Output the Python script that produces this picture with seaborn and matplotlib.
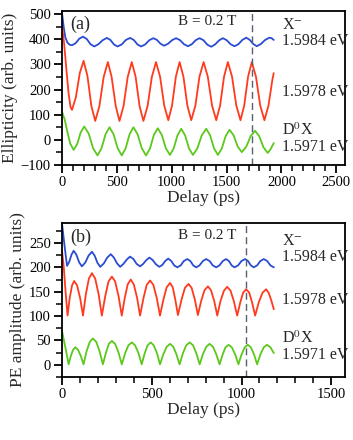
import seaborn as sns
import matplotlib
matplotlib.use('Agg')
import matplotlib.pyplot as plt
from matplotlib.ticker import MultipleLocator

# ---- (a) ellipticity, delay in ps ----
ta_blue = [0, 15, 30, 50, 70, 91, 124, 158, 191, 225, 260, 294, 332, 371, 409, 441, 474, 506,
           544, 583, 621, 654, 688, 721, 758, 796, 833, 865, 898, 930, 967, 1003, 1040, 1076,
           1112, 1148, 1183, 1219, 1254, 1289, 1325, 1360, 1395, 1431, 1466, 1501, 1537, 1572,
           1608, 1644, 1680, 1712, 1743, 1775, 1813, 1852, 1890, 1910, 1930]
va_blue = [505, 450, 408, 386, 378, 376, 384, 402, 410, 401, 380, 371, 380, 396, 405, 397, 379, 371,
           379, 397, 405, 397, 379, 371, 379, 396, 404, 397, 382, 374, 382, 396, 404, 396,
           380, 372, 380, 396, 404, 396, 378, 370, 379, 395, 404, 396, 380, 372,
           380, 397, 406, 397, 381, 372, 381, 397, 406, 404, 397]

ta_red = [0, 20, 40, 60, 78, 91, 126, 162, 197, 232, 268, 303, 341, 380, 418, 452, 490, 524,
          561, 599, 636, 671, 707, 742, 780, 819, 857, 894, 932, 969, 1003, 1038, 1072, 1107,
          1143, 1178, 1216, 1253, 1291, 1329, 1368, 1406, 1441, 1477, 1512, 1550, 1589, 1627,
          1661, 1696, 1730, 1768, 1807, 1845, 1882, 1918, 1930]
va_red = [455, 380, 280, 185, 130, 119, 168, 265, 314, 254, 134, 75, 134, 250, 309, 251, 134, 75,
          134, 250, 309, 251, 134, 75, 134, 250, 309, 251, 136, 78, 136, 251, 309, 251,
          136, 78, 136, 251, 309, 251, 136, 78, 136, 251, 309, 251, 136, 78,
          136, 251, 309, 251, 136, 78, 136, 240, 265]

ta_green = [0, 25, 50, 75, 106, 138, 171, 203, 243, 284, 324, 360, 397, 433, 470, 508, 545,
            580, 616, 651, 689, 728, 766, 802, 837, 873, 910, 947, 984, 1018, 1053, 1087, 1122,
            1158, 1193, 1234, 1274, 1315, 1350, 1386, 1421, 1456, 1492, 1527, 1564, 1602, 1639,
            1679, 1720, 1760, 1798, 1837, 1875, 1900, 1930]
va_green = [112, 80, 30, -15, -40, -17, 30, 53, 25, -34, -62, -34, 22, 50, 22, -34, -62,
            -34, 22, 50, 22, -34, -62, -35, 19, 46, 19, -34, -60, -34, 18, 44, 18,
            -34, -60, -34, 18, 44, 18, -34, -60, -35, 15, 40, 18, -27, -49,
            -28, 15, 36, 14, -30, -52, -38, -13]

# ---- (b) photon echo amplitude ----
tb_blue = [0, 14, 28, 40, 53, 65, 80, 96, 111, 130, 148, 167, 182, 198, 213, 233, 252, 272,
           289, 307, 324, 342, 361, 379, 398, 416, 435, 452, 470, 487, 505, 524, 542, 559,
           575, 592, 609, 625, 642, 661, 679, 698, 715, 731, 748, 766, 785, 803, 822, 840,
           859, 877, 896, 914, 930, 945, 961, 981, 1000, 1020, 1036, 1052, 1068, 1087, 1105,
           1124, 1143, 1161, 1180]
vb_blue = [290, 245, 203, 211, 226, 234, 226, 210, 202, 210, 224, 232, 224, 209, 201, 208, 220, 227,
           220, 208, 201, 207, 216, 222, 217, 207, 202, 207, 215, 220, 215, 206, 201, 205,
           213, 218, 213, 204, 200, 204, 213, 217, 213, 204, 200, 204, 213, 217, 213, 204,
           200, 204, 213, 217, 213, 204, 200, 204, 213, 217, 213, 204, 200, 204, 213,
           217, 213, 204, 200]

tb_red = [0, 10, 20, 31, 43, 56, 68, 84, 101, 117, 133, 150, 167, 185, 204, 222, 241, 259, 278,
          296, 315, 333, 350, 366, 383, 400, 418, 435, 454, 472, 491, 509, 528, 546, 565, 583,
          602, 617, 631, 646, 666, 685, 705, 722, 740, 757, 776, 794, 813, 830, 848, 865, 883,
          902, 920, 939, 957, 976, 993, 1009, 1026, 1043, 1059, 1076, 1096, 1117, 1137, 1151,
          1166, 1180]
vb_red = [235, 200, 150, 101, 137, 163, 172, 163, 137, 101, 145, 177, 188, 177, 145, 101, 141, 171, 181,
          171, 141, 101, 138, 165, 175, 165, 138, 101, 137, 164, 173, 164, 137, 101, 134, 159,
          168, 159, 134, 102, 134, 158, 166, 158, 134, 102, 132, 153, 161, 153, 131, 101, 131,
          152, 160, 152, 131, 101, 128, 148, 155, 148, 128, 101, 128, 148, 155, 148,
          132, 114]

tb_green = [0, 12, 25, 37, 49, 62, 74, 89, 105, 120, 137, 155, 172, 191, 209, 228, 245, 261, 278,
            296, 315, 333, 352, 370, 389, 407, 426, 444, 461, 477, 494, 511, 529, 546, 565, 583,
            602, 620, 637, 655, 674, 692, 711, 730, 748, 767, 785, 804, 822, 841, 859, 878, 895,
            911, 928, 946, 965, 983, 1000, 1018, 1035, 1052, 1070, 1087, 1105, 1124, 1142, 1161,
            1180]
vb_green = [70, 48, 24, 1, 18, 31, 36, 31, 18, 1, 28, 47, 54, 47, 28, 1, 25, 43, 49,
            43, 25, 1, 24, 40, 46, 40, 24, 1, 24, 40, 46, 40, 24, 1, 22, 37,
            43, 37, 22, 1, 24, 40, 46, 40, 24, 1, 22, 37, 43, 37, 22, 1, 21,
            36, 41, 36, 21, 1, 21, 36, 41, 36, 21, 1, 21, 36, 41, 36,
            24]

labels = ['X$^{-}$\n1.5984 eV', '1.5978 eV', 'D$^{0}$X\n1.5971 eV']
field_text = 'B = 0.2 T'
marker_a = 1730
marker_b = 1025

blue = '#2a4cd2'
red = '#ff3a1e'
green = '#5cc81c'

sns.set_style('ticks')
plt.rcParams['font.family'] = ['Liberation Serif', 'DejaVu Serif']
plt.rcParams['mathtext.fontset'] = 'stix'

fig = plt.figure(figsize=(3.53, 4.40), dpi=100)
ax1 = fig.add_axes([0.1756, 0.625, 0.8025, 0.35])
ax2 = fig.add_axes([0.1756, 0.1432, 0.8025, 0.35])

for ax, data in [(ax1, [(ta_blue, va_blue, blue), (ta_red, va_red, red), (ta_green, va_green, green)]),
                 (ax2, [(tb_blue, vb_blue, blue), (tb_red, vb_red, red), (tb_green, vb_green, green)])]:
    for t, v, c in data:
        sns.lineplot(x=t, y=v, ax=ax, color=c, lw=1.3, estimator=None)

ax1.axvline(marker_a, color='#556070', ls=(0, (5, 3)), lw=1.0)
ax2.axvline(marker_b, color='#556070', ls=(0, (5, 3)), lw=1.0)

ax1.set_xlim(0, 2582)
ax1.set_ylim(-100, 512)
ax1.xaxis.set_major_locator(MultipleLocator(500))
ax1.xaxis.set_minor_locator(MultipleLocator(100))
ax1.yaxis.set_major_locator(MultipleLocator(100))
ax1.yaxis.set_minor_locator(MultipleLocator(50))

ax2.set_xlim(0, 1578)
ax2.set_ylim(-25, 291)
ax2.xaxis.set_major_locator(MultipleLocator(500))
ax2.xaxis.set_minor_locator(MultipleLocator(100))
ax2.yaxis.set_major_locator(MultipleLocator(50))
ax2.yaxis.set_minor_locator(MultipleLocator(25))

for ax, ylab in [(ax1, 'Ellipticity (arb. units)'), (ax2, 'PE amplitude (arb. units)')]:
    for s in ax.spines.values():
        s.set_linewidth(1.3)
        s.set_color('black')
    ax.tick_params(which='major', direction='out', length=6, width=1.3, labelsize=10.5, pad=2, colors='black')
    ax.tick_params(which='minor', direction='out', length=4, width=1.1, colors='black')
    ax.set_xlabel('Delay (ps)', fontsize=12.5, labelpad=1)
    ax.set_ylabel(ylab, fontsize=12.5, labelpad=2)

ax1.text(0.03, 0.915, '(a)', transform=ax1.transAxes, fontsize=13, va='center', ha='left')
ax2.text(0.03, 0.905, '(b)', transform=ax2.transAxes, fontsize=13, va='center', ha='left')

ax1.text(0.511, 0.93, field_text, transform=ax1.transAxes, fontsize=11, va='center', ha='center')
ax2.text(0.511, 0.922, field_text, transform=ax2.transAxes, fontsize=11, va='center', ha='center')

for ax, ys in [(ax1, [0.855, 0.476, 0.173]), (ax2, [0.83, 0.5, 0.198])]:
    for lab, y in zip(labels, ys):
        ax.text(0.775, y, lab, transform=ax.transAxes, fontsize=11.5, va='center', ha='left',
                linespacing=1.0)

fig.savefig('out.png', dpi=100)
